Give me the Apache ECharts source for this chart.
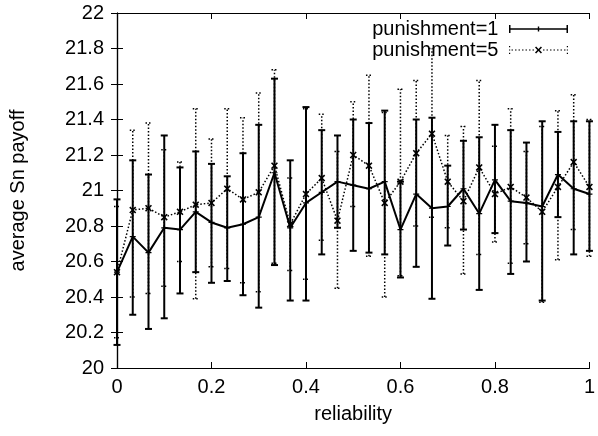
<!DOCTYPE html>
<html>
<head>
<meta charset="utf-8">
<script src="https://cdn.jsdelivr.net/npm/echarts@6/dist/echarts.min.js"></script>
<style>
  html, body { margin: 0; padding: 0; background: #fff; }
  #chart { width: 598px; height: 436px; }
</style>
</head>
<body>
<div id="chart"></div>
<script>
// x positions: reliability steps of 1/30
const steps = 30;
const reliability = [];
for (let i = 0; i <= steps; i++) reliability.push(i / steps);

// punishment=1 : mean, lower, upper
const p1Mean = [20.54, 20.74, 20.65, 20.79, 20.78, 20.88, 20.82, 20.79, 20.81, 20.85,
                21.10, 20.79, 20.93, 20.99, 21.05, 21.03, 21.01, 21.05, 20.78, 20.98,
                20.90, 20.91, 21.01, 20.87, 21.06, 20.94, 20.93, 20.91, 21.09, 21.01, 20.98];
const p1Low  = [20.13, 20.30, 20.22, 20.28, 20.42, 20.54, 20.48, 20.49, 20.41, 20.34,
                20.58, 20.38, 20.38, 20.64, 20.79, 20.66, 20.65, 20.64, 20.51, 20.57,
                20.39, 20.69, 20.78, 20.44, 20.76, 20.53, 20.60, 20.38, 20.85, 20.64, 20.66];
const p1High = [20.95, 21.17, 21.09, 21.31, 21.13, 21.22, 21.15, 21.08, 21.21, 21.37,
                21.63, 21.17, 21.47, 21.34, 21.31, 21.40, 21.38, 21.45, 21.05, 21.40,
                21.41, 21.14, 21.28, 21.30, 21.37, 21.34, 21.27, 21.39, 21.33, 21.39, 21.39];

// punishment=5 : mean, lower, upper
const p5Mean = [20.54, 20.89, 20.90, 20.85, 20.88, 20.92, 20.93, 21.01, 20.95, 20.99,
                21.14, 20.81, 20.98, 21.07, 20.83, 21.20, 21.14, 20.93, 21.05, 21.21,
                21.32, 21.05, 20.94, 21.13, 20.98, 21.02, 20.96, 20.88, 21.02, 21.16, 21.02];
const p5Low  = [20.17, 20.40, 20.42, 20.46, 20.60, 20.39, 20.57, 20.56, 20.48, 20.43,
                20.59, 20.55, 20.50, 20.72, 20.45, 20.91, 20.63, 20.40, 20.52, 20.80,
                20.85, 20.79, 20.53, 20.64, 20.71, 20.59, 20.70, 20.37, 20.61, 20.78, 20.63];
const p5High = [20.91, 21.34, 21.38, 21.23, 21.16, 21.46, 21.29, 21.46, 21.41, 21.55,
                21.68, 21.07, 21.46, 21.43, 21.22, 21.50, 21.65, 21.44, 21.57, 21.62,
                21.80, 21.31, 21.36, 21.62, 21.25, 21.46, 21.22, 21.36, 21.45, 21.54, 21.40];

const seriesNames = ['punishment=1', 'punishment=5'];
const font = 'Liberation Sans, Arial, Helvetica, sans-serif';

const plusPath = 'path://M4,0 L6,0 L6,4 L10,4 L10,6 L6,6 L6,10 L4,10 L4,6 L0,6 L0,4 L4,4 Z';
const crossPts = [[0,1.6],[1.6,0],[5,3.4],[8.4,0],[10,1.6],[6.6,5],[10,8.4],[8.4,10],[5,6.6],[1.6,10],[0,8.4],[3.4,5]];
const crossPath = 'path://M' + crossPts.map(p => p[0] + ',' + p[1]).join(' L') + ' Z';

// legend samples drawn like gnuplot's errorbar key (59 x 8 box)
function rect(x, y, w, h) {
  return 'M' + x + ',' + y + ' L' + (x + w) + ',' + y + ' L' + (x + w) + ',' + (y + h) + ' L' + x + ',' + (y + h) + ' Z ';
}
const key1 = 'path://' + rect(0, 0, 1.5, 8) + rect(57.5, 0, 1.5, 8) + rect(0, 3.3, 59, 1.4) + rect(28.8, 1.5, 1.4, 5);
let key5 = 'path://' + rect(0, 0, 1.2, 1.2) + rect(0, 3.4, 1.2, 1.2) + rect(0, 6.8, 1.2, 1.2)
  + rect(57.8, 0, 1.2, 1.2) + rect(57.8, 3.4, 1.2, 1.2) + rect(57.8, 6.8, 1.2, 1.2);
for (let x = 2.5; x < 56; x += 3.5) {
  if (x > 25 && x < 33) continue;
  key5 += rect(x, 3.4, 1.5, 1.2);
}
key5 += 'M' + crossPts.map(p => (26 + p[0] * 0.7) + ',' + (0.5 + p[1] * 0.7)).join(' L') + ' Z';

function pairs(ys) { return reliability.map((x, i) => [x, ys[i]]); }
function bars(lo, hi) { return reliability.map((x, i) => [x, lo[i], hi[i]]); }

function errRender(style, capW) {
  return function (params, api) {
    const x = api.value(0);
    const lo = api.coord([x, api.value(1)]);
    const hi = api.coord([x, api.value(2)]);
    const h = capW / 2;
    return {
      type: 'group',
      children: [
        { type: 'line', shape: { x1: lo[0], y1: lo[1], x2: hi[0], y2: hi[1] }, style: style },
        { type: 'line', shape: { x1: lo[0] - h, y1: lo[1], x2: lo[0] + h, y2: lo[1] }, style: style },
        { type: 'line', shape: { x1: hi[0] - h, y1: hi[1], x2: hi[0] + h, y2: hi[1] }, style: style }
      ]
    };
  };
}

const solidStyle = { stroke: '#000', lineWidth: 2, fill: null };
const dotStyle = { stroke: '#000', lineWidth: 1.5, lineDash: [1.5, 2], fill: null };

const tickStyle = { show: true, inside: true, length: 6, lineStyle: { color: '#000', width: 1 } };
const lineAxis = { show: true, lineStyle: { color: '#000', width: 1.2 } };

const chart = echarts.init(document.getElementById('chart'));
chart.setOption({
  animation: false,
  backgroundColor: '#fff',
  textStyle: { fontFamily: font },
  grid: { left: 116, right: 5, top: 13, bottom: 68 },
  legend: {
    data: [
      { name: seriesNames[0], icon: key1 },
      { name: seriesNames[1], icon: key5 }
    ],
    orient: 'vertical',
    align: 'right',
    right: 30,
    top: 19,
    padding: 0,
    itemWidth: 59,
    itemHeight: 8,
    itemGap: 1,
    selectedMode: false,
    formatter: name => name + ' ',
    textStyle: { fontFamily: font, fontSize: 20, lineHeight: 20, color: '#000' }
  },
  xAxis: [{
    type: 'value', min: 0, max: 1, interval: 0.2,
    name: 'reliability', nameLocation: 'middle', nameGap: 36,
    nameTextStyle: { fontFamily: font, fontSize: 20, color: '#000' },
    axisLine: lineAxis, axisTick: tickStyle, splitLine: { show: false },
    axisLabel: { fontFamily: font, fontSize: 20, color: '#000', margin: 9 }
  }, {
    type: 'value', min: 0, max: 1, interval: 0.2, position: 'top',
    axisLine: lineAxis, axisTick: tickStyle, splitLine: { show: false },
    axisLabel: { show: false }
  }],
  yAxis: [{
    type: 'value', min: 20, max: 22, interval: 0.2,
    name: 'average Sn payoff', nameLocation: 'middle', nameGap: 89, nameRotate: 90,
    nameTextStyle: { fontFamily: font, fontSize: 20, color: '#000' },
    axisLine: lineAxis, axisTick: tickStyle, splitLine: { show: false },
    axisLabel: { fontFamily: font, fontSize: 20, color: '#000', margin: 13 }
  }, {
    type: 'value', min: 20, max: 22, interval: 0.2, position: 'right',
    axisLine: lineAxis, axisTick: tickStyle, splitLine: { show: false },
    axisLabel: { show: false }
  }],
  series: [
    {
      name: 'err1', type: 'custom', renderItem: errRender(solidStyle, 7),
      data: bars(p1Low, p1High), encode: { x: 0, y: [1, 2] }, z: 3
    },
    {
      name: 'err5', type: 'custom', renderItem: errRender(dotStyle, 6),
      data: bars(p5Low, p5High), encode: { x: 0, y: [1, 2] }, z: 4
    },
    {
      name: seriesNames[0], type: 'line', data: pairs(p1Mean),
      symbol: plusPath, symbolSize: 6, showAllSymbol: true,
      lineStyle: { color: '#000', width: 2 }, itemStyle: { color: '#000' }, z: 5
    },
    {
      name: seriesNames[1], type: 'line', data: pairs(p5Mean),
      symbol: crossPath, symbolSize: 7, showAllSymbol: true,
      lineStyle: { color: '#000', width: 1.5, type: [1.5, 2] }, itemStyle: { color: '#000' }, z: 6
    }
  ]
});
</script>
</body>
</html>
